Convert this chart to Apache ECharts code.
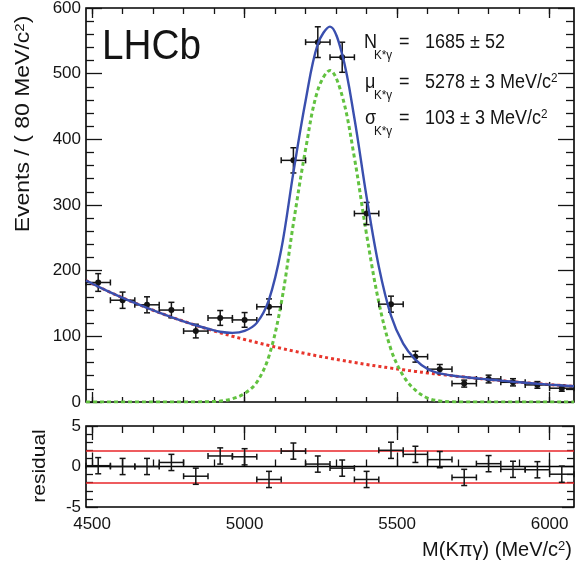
<!DOCTYPE html>
<html>
<head>
<meta charset="utf-8">
<title>K*gamma mass fit</title>
<script src="https://cdn.jsdelivr.net/npm/echarts@6/dist/echarts.min.js"></script>
<style>
  html, body { margin: 0; padding: 0; background: #fff; }
  #chart { width: 582px; height: 569px; }
</style>
</head>
<body>
<div id="chart"></div>
<script>
// binned data (80 MeV/c2 bins)
const massBins = [4520, 4600, 4680, 4760, 4840, 4920, 5000, 5080, 5160, 5240,
                  5320, 5400, 5480, 5560, 5640, 5720, 5800, 5880, 5960, 6040];
const events = [182, 155, 148, 140, 108, 128, 125, 145, 368, 548,
                525, 287, 149, 69, 50, 28, 35, 30, 26, 21];
const eventErr = [13.5, 12.4, 12.2, 11.8, 10.4, 11.3, 11.2, 12.0, 19.2, 23.4,
                  22.9, 16.9, 12.2, 8.3, 7.1, 5.3, 5.9, 5.5, 5.1, 4.6];
const binHalfWidth = 40;

const residuals = [0.1, 0.0, 0.0, 0.5, -1.2, 1.3, 1.2, -1.6, 1.9, 0.3,
                   -0.2, -1.6, 2.0, 1.5, 0.85, -1.35, 0.35, -0.35, -0.4, -0.95];
const residualErr = [1, 1, 1, 1, 1, 1, 1, 1, 1, 1, 1, 1, 1, 1, 1, 1, 1, 1, 1, 1];
const pullLimits = [-2, 2];

// fit curves
const curveMass = [4480, 4520, 4560, 4600, 4640, 4680, 4720, 4760, 4800, 4840,
                   4880, 4920, 4960, 5000, 5040, 5080, 5120, 5160, 5200, 5240,
                   5280, 5320, 5360, 5400, 5440, 5480, 5520, 5560, 5600, 5640,
                   5680, 5720, 5760, 5800, 5840, 5880, 5920, 5960, 6000, 6040, 6080];
const totalFit = [185, 175.8, 167, 158.7, 150.8, 143.3, 136.2, 129.4, 122.9, 116.9,
                  111.5, 107, 105.2, 108.2, 120.5, 156, 231.7, 349.6, 458.8, 545.1,
                  571.6, 529.3, 432.1, 312.1, 206.3, 131.6, 89, 64.6, 50.3, 43.5,
                  40.3, 38, 36.1, 34.3, 32.6, 30.9, 29.4, 27.9, 26.5, 25.2, 24];
const signalFit = [0, 0, 0, 0, 0, 0, 0, 0, 0, 0.1,
                   0.5, 1.5, 5, 13, 30, 70, 150, 272, 385, 475,
                   505, 466, 372, 255, 152, 80, 40, 18, 6, 1.5,
                   0.3, 0, 0, 0, 0, 0, 0, 0, 0, 0, 0];
const bkgFit = [185, 175.8, 167, 158.7, 150.8, 143.3, 136.2, 129.4, 122.9, 116.8,
                111, 105.5, 100.2, 95.2, 90.5, 86, 81.7, 77.6, 73.8, 70.1,
                66.6, 63.3, 60.1, 57.1, 54.3, 51.6, 49, 46.6, 44.3, 42,
                40, 38, 36.1, 34.3, 32.6, 30.9, 29.4, 27.9, 26.5, 25.2, 24];

// axis ticks
const massRange = [4480, 6080];
const xMinorTicks = [4500, 4600, 4700, 4800, 4900, 5000, 5100, 5200, 5300, 5400,
                     5500, 5600, 5700, 5800, 5900, 6000];
const xMajorTicks = [4500, 5000, 5500, 6000];
const eventsRange = [0, 600];
const residualRange = [-5, 5];

const FONT = 'Liberation Sans, Arial, Helvetica, sans-serif';
const INK = '#141414';

const chart = echarts.init(document.getElementById('chart'));

function massAxis(grid, pos, ticks, len, labels) {
  return {
    type: 'value', gridIndex: grid, position: pos,
    min: massRange[0], max: massRange[1],
    axisLine: { show: false },
    splitLine: { show: false },
    axisTick: { show: true, inside: true, length: len, customValues: ticks,
                lineStyle: { color: INK, width: 1.3 } },
    axisLabel: labels ? {
      show: true, customValues: xMajorTicks, margin: 9,
      color: INK, fontFamily: FONT, fontSize: 17,
      formatter: v => String(v)
    } : { show: false }
  };
}

function countAxis(grid, pos, range, interval, major, minor, labels) {
  return {
    type: 'value', gridIndex: grid, position: pos,
    min: range[0], max: range[1], interval: interval,
    axisLine: { show: false },
    splitLine: { show: false },
    axisTick: { show: true, inside: true, length: major, lineStyle: { color: INK, width: 1.3 } },
    minorTick: { show: true, splitNumber: 5, length: minor, lineStyle: { color: INK, width: 1.3 } },
    axisLabel: labels ? { show: true, margin: 5, color: INK, fontFamily: FONT, fontSize: 17 }
                      : { show: false }
  };
}

function errorBars(xi, yi, xs, ys, errs, dot) {
  return {
    type: 'custom', xAxisIndex: xi, yAxisIndex: yi, z: 5,
    data: xs.map((x, i) => [x, ys[i], binHalfWidth, errs[i]]),
    renderItem: function (params, api) {
      const x = api.value(0), y = api.value(1), ex = api.value(2), ey = api.value(3);
      const p = api.coord([x, y]);
      const l = api.coord([x - ex, y]), r = api.coord([x + ex, y]);
      const t = api.coord([x, y + ey]), b = api.coord([x, y - ey]);
      const cap = 3;
      const st = { stroke: INK, lineWidth: 1.5, fill: null };
      const kids = [
        { type: 'line', shape: { x1: l[0], y1: l[1], x2: r[0], y2: r[1] }, style: st },
        { type: 'line', shape: { x1: t[0], y1: t[1], x2: b[0], y2: b[1] }, style: st },
        { type: 'line', shape: { x1: t[0] - cap, y1: t[1], x2: t[0] + cap, y2: t[1] }, style: st },
        { type: 'line', shape: { x1: b[0] - cap, y1: b[1], x2: b[0] + cap, y2: b[1] }, style: st },
        { type: 'line', shape: { x1: l[0], y1: l[1] - cap, x2: l[0], y2: l[1] + cap }, style: st },
        { type: 'line', shape: { x1: r[0], y1: r[1] - cap, x2: r[0], y2: r[1] + cap }, style: st }
      ];
      if (dot) kids.push({ type: 'circle', shape: { cx: p[0], cy: p[1], r: 3 }, style: { fill: INK } });
      return { type: 'group', children: kids };
    }
  };
}

function curve(values, color, width, dash, z) {
  return {
    type: 'line', xAxisIndex: 0, yAxisIndex: 0, z: z,
    data: curveMass.map((m, i) => [m, values[i]]),
    showSymbol: false, smooth: 0.35, silent: true,
    lineStyle: { color: color, width: width, type: dash }
  };
}

function label(x, y, text, size, extra) {
  return Object.assign({
    type: 'text', x: x, y: y, silent: true,
    style: { text: text, fill: INK, fontFamily: FONT, fontSize: size,
             align: 'left', verticalAlign: 'middle' }
  }, extra || {});
}

const supRich = { t: { fontFamily: FONT, fontSize: 20, fill: INK },
                  s: { fontFamily: FONT, fontSize: 13, fill: INK, verticalAlign: 'top' } };

const option = {
  backgroundColor: '#ffffff',
  animation: false,
  grid: [
    { left: 86, right: 8, top: 8, height: 394, show: true, borderColor: '#000',
      borderWidth: 1.6, backgroundColor: 'transparent', outerBoundsMode: 'none' },
    { left: 86, right: 8, top: 426, height: 81, show: true, borderColor: '#000',
      borderWidth: 1.6, backgroundColor: 'transparent', outerBoundsMode: 'none' }
  ],
  xAxis: [
    massAxis(0, 'bottom', xMinorTicks, 5, false),
    massAxis(0, 'bottom', xMajorTicks, 10, false),
    massAxis(0, 'top', xMinorTicks, 6, false),
    massAxis(0, 'top', xMajorTicks, 10, false),
    massAxis(1, 'bottom', xMinorTicks, 7, false),
    massAxis(1, 'bottom', xMajorTicks, 14, true),
    massAxis(1, 'top', xMinorTicks, 7, false),
    massAxis(1, 'top', xMajorTicks, 14, false)
  ],
  yAxis: [
    countAxis(0, 'left', eventsRange, 100, 16, 8, true),
    countAxis(0, 'right', eventsRange, 100, 16, 8, false),
    countAxis(1, 'left', residualRange, 5, 12, 7, true),
    countAxis(1, 'right', residualRange, 5, 12, 7, false)
  ],
  series: [
    curve(bkgFit, '#e8352c', 3, [3, 3], 2),
    curve(signalFit, '#62c240', 3, [4, 3], 2),
    errorBars(0, 0, massBins, events, eventErr, true),
    curve(totalFit, '#3a4fae', 2.4, 'solid', 6),
    Object.assign(errorBars(4, 2, massBins, residuals, residualErr, false), {
      markLine: {
        silent: true, symbol: 'none', animation: false,
        label: { show: false },
        data: [
          { yAxis: 0, lineStyle: { color: '#000', width: 1.4, type: 'solid' } },
          { yAxis: pullLimits[0], lineStyle: { color: '#e8262a', width: 1.6, type: 'solid' } },
          { yAxis: pullLimits[1], lineStyle: { color: '#e8262a', width: 1.6, type: 'solid' } }
        ]
      }
    })
  ],
  graphic: [
    label(102, 47.5, 'LHCb', 43, { scaleX: 0.9 }),

    label(364, 42, 'N', 20, { scaleX: 0.9 }),
    label(374, 55, 'K*γ', 13, { scaleX: 0.9 }),
    label(399, 42, '=', 20, { scaleX: 0.9 }),
    label(425, 42, '1685 ± 52', 20, { scaleX: 0.9 }),

    label(365, 82, 'μ', 20, { scaleX: 0.9 }),
    label(374, 95, 'K*γ', 13, { scaleX: 0.9 }),
    label(399, 82, '=', 20, { scaleX: 0.9 }),
    { type: 'text', x: 425, y: 82, scaleX: 0.9, silent: true,
      style: { text: '{t|5278 ± 3 MeV/c}{s|2}', rich: supRich, verticalAlign: 'middle', align: 'left' } },

    label(365, 118, 'σ', 20, { scaleX: 0.9 }),
    label(374, 131, 'K*γ', 13, { scaleX: 0.9 }),
    label(399, 118, '=', 20, { scaleX: 0.9 }),
    { type: 'text', x: 425, y: 118, scaleX: 0.9, silent: true,
      style: { text: '{t|103 ± 3 MeV/c}{s|2}', rich: supRich, verticalAlign: 'middle', align: 'left' } },

    // axis titles
    { type: 'text', x: 24, y: 124, rotation: Math.PI / 2, scaleY: 0.85, silent: true,
      style: { text: '{t|Events / ( 80 MeV/c}{s|2}{t|)}', align: 'center', verticalAlign: 'middle',
               rich: { t: { fontFamily: FONT, fontSize: 23, fill: INK },
                       s: { fontFamily: FONT, fontSize: 15, fill: INK, verticalAlign: 'top' } } } },
    { type: 'text', x: 40, y: 466, rotation: Math.PI / 2, scaleY: 0.85, silent: true,
      style: { text: 'residual', fill: INK, fontFamily: FONT, fontSize: 21,
               align: 'center', verticalAlign: 'middle' } },
    { type: 'text', x: 572, y: 550, silent: true,
      style: { text: '{t|M(Kπγ) (MeV/c}{s|2}{t|)}', align: 'right', verticalAlign: 'middle',
               rich: { t: { fontFamily: FONT, fontSize: 20, fill: INK },
                       s: { fontFamily: FONT, fontSize: 13, fill: INK, verticalAlign: 'top' } } } }
  ]
};

chart.setOption(option);
</script>
</body>
</html>
